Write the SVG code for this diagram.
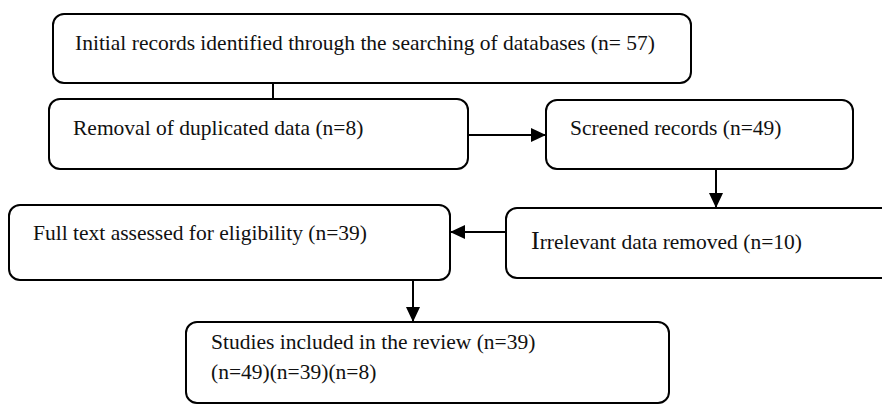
<svg xmlns="http://www.w3.org/2000/svg" width="882" height="406" viewBox="0 0 882 406">
<style>
.box{fill:#fff;stroke:#000;stroke-width:2}
.t{font-family:"Liberation Serif","Times New Roman",serif;font-size:21.5px;fill:#111}
.c{stroke:#000;stroke-width:2;fill:none}
</style>
<defs>
<marker id="ah" markerWidth="15" markerHeight="14" viewBox="0 0 15 14" refX="15" refY="7" orient="auto" markerUnits="userSpaceOnUse">
<path d="M0,0 L15,7 L0,14 Z" fill="#000"/>
</marker>
</defs>
<rect width="882" height="406" fill="#fff"/>
<g id="connectors">
<line class="c" x1="273" y1="83" x2="273" y2="99"/>
<line class="c" x1="468" y1="135" x2="546" y2="135" marker-end="url(#ah)"/>
<line class="c" x1="716" y1="169" x2="716" y2="208" marker-end="url(#ah)"/>
<line class="c" x1="506" y1="232" x2="450" y2="232" marker-end="url(#ah)"/>
<line class="c" x1="413" y1="280" x2="413" y2="322" marker-end="url(#ah)"/>
</g>
<g id="n1"><rect class="box" x="53" y="14" width="638" height="69" rx="11"/>
<text class="t" x="75" y="50">Initial records identified through the searching of databases (n= 57)</text></g>
<g id="n2"><rect class="box" x="49" y="99" width="419" height="70" rx="11"/>
<text class="t" x="73" y="135">Removal of duplicated data (n=8)</text></g>
<g id="n3"><rect class="box" x="546" y="100" width="307" height="69" rx="11"/>
<text class="t" x="570" y="135">Screened records (n=49)</text></g>
<g id="n4"><rect class="box" x="506" y="208" width="390" height="70" rx="11"/>
<text class="t" x="531" y="249"><tspan font-size="26">I</tspan>rrelevant data removed (n=10)</text></g>
<g id="n5"><rect class="box" x="9" y="205" width="441" height="75" rx="11"/>
<text class="t" x="33" y="240">Full text assessed for eligibility (n=39)</text></g>
<g id="n6"><rect class="box" x="186" y="322" width="483" height="81" rx="11"/>
<text class="t" x="211" y="349">Studies included in the review (n=39)</text>
<text class="t" x="211" y="379">(n=49)(n=39)(n=8)</text></g>
</svg>
